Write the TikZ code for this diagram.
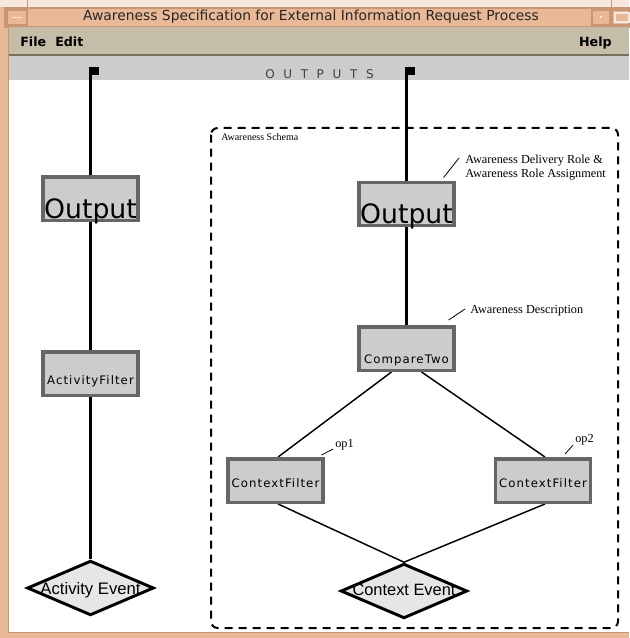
\documentclass[tikz,border=0pt]{standalone}
\usepackage{fontspec}
\setmainfont{Liberation Serif}
\newfontfamily\lucida{DejaVu Sans}
\newfontfamily\lucidabold{DejaVu Sans Bold}
\newfontfamily\boxfont[LetterSpace=9]{DejaVu Sans}
\newfontfamily\outfont[LetterSpace=72]{DejaVu Sans}
\newfontfamily\arial{Liberation Sans}
\usetikzlibrary{shapes.geometric,calc}
\definecolor{winorange}{HTML}{E9B896}
\definecolor{winorangedk}{HTML}{C89575}
\definecolor{winlight}{HTML}{F6E8DE}
\definecolor{menubg}{HTML}{C5BDA8}
\definecolor{menuline}{HTML}{77705F}
\definecolor{bargray}{HTML}{CCCCCC}
\definecolor{boxfill}{HTML}{CCCCCC}
\definecolor{boxedge}{HTML}{666666}
\definecolor{diafill}{HTML}{E6E6E6}
\pgfdeclarelayer{bg}
\pgfdeclarelayer{wires}
\pgfsetlayers{bg,wires,main}
\newcommand{\boxlabel}[2]{\raisebox{-#1}[0pt][0pt]{\makebox[0pt]{#2}}}
\begin{document}
\begin{tikzpicture}[x=0.75pt,y=-0.75pt,
  opbox/.style={rectangle, draw=boxedge, fill=boxfill, line width=2.6pt,
    minimum width=71pt, minimum height=32.6pt, inner sep=0pt},
  evdia/.style={diamond, draw=black, fill=diafill, line width=2.2pt,
    minimum width=95pt, minimum height=41pt, inner sep=0pt},
  wire/.style={line width=2.2pt},
  diag/.style={line width=1.1pt},
  lead/.style={line width=0.6pt},
  note/.style={font=\fontsize{9.2}{10.5}\selectfont, inner sep=0pt, align=left},
]
\useasboundingbox (0,0) rectangle (629,638);
% ---------- window chrome ----------
\begin{pgfonlayer}{bg}
\fill[winorange] (0,0) rectangle (629,638);
\fill[winlight] (0,0) rectangle (629,7);
\draw[winorangedk, line width=0.6pt] (27,0) -- (27,7) (611,0) -- (611,7);
\fill[winorange] (5,8) rectangle (629,27);
\draw[winorangedk, line width=0.8pt] (5,8) rectangle (629,27);
\draw[winorangedk, line width=0.8pt] (7,10) rectangle (27,25);
\draw[winlight, line width=1.2pt] (12,17.5) -- (22,17.5);
\draw[winorangedk, line width=0.8pt] (592,10) rectangle (610,25);
\fill[winlight] (600,16.5) rectangle (602,18.5);
\draw[winorangedk, line width=0.8pt] (612,10) rectangle (629,25);
\draw[winlight, line width=0.8pt] (615,13) rectangle (629,22);
\fill[menubg] (8,27) rectangle (629,55);
\fill[menuline] (8,54) rectangle (629,56.5);
\fill[bargray] (8,56.5) rectangle (629,80);
\fill[white] (8,80) rectangle (629,632);
\draw[winorangedk, line width=0.6pt] (8,27) -- (8,632) -- (629,632);
% dashed awareness schema frame
\draw[line width=1.5pt, dash pattern=on 6pt off 4.5pt, rounded corners=5]
  (211,128) rectangle (618,628);
\end{pgfonlayer}
% ---------- texts of the chrome ----------
\node[font=\lucida\fontsize{10.4}{12}\selectfont, inner sep=0pt, anchor=base, text=black!85]
  (title) at (311,21) {Awareness Specification for External Information Request Process};
\node[font=\lucidabold\fontsize{9.5}{11}\selectfont, inner sep=0pt, anchor=base west]
  (file) at (20,47) {File};
\node[font=\lucidabold\fontsize{9.5}{11}\selectfont, inner sep=0pt, anchor=base west]
  (edit) at (55,47) {Edit};
\node[font=\lucidabold\fontsize{9.5}{11}\selectfont, inner sep=0pt, anchor=base east]
  (help) at (612,47) {Help};
\node[font=\outfont\fontsize{9}{10}\selectfont, inner sep=0pt, anchor=base west, text=black!75]
  (outputs) at (265,79) {OUTPUTS};
% flags
\coordinate (flagL) at (90.5,67);
\coordinate (flagR) at (406.5,67);
\fill (90.5,67) rectangle (98.5,75);
\fill (406.5,67) rectangle (414.5,75);
% ---------- left column ----------
\node[opbox] (outL) at (90.5,198.5) {\boxlabel{14.8pt}{\lucida\fontsize{20}{22}\selectfont Output}};
\node[opbox] (af) at (90.5,373.5) {\boxlabel{8pt}{\boxfont\fontsize{8.8}{10}\selectfont ActivityFilter}};
\node[evdia] (ae) at (90.5,588) {\boxlabel{5.2pt}{\arial\fontsize{12.5}{14}\selectfont Activity Event}};
% ---------- right column ----------
\node[opbox] (outR) at (406.5,204) {\boxlabel{14.8pt}{\lucida\fontsize{20}{22}\selectfont Output}};
\node[opbox] (cmp) at (406.5,348.5) {\boxlabel{11pt}{\boxfont\fontsize{8.8}{10}\selectfont CompareTwo}};
\node[opbox] (cf1) at (275.5,480.5) {\boxlabel{5.6pt}{\boxfont\fontsize{8.8}{10}\selectfont ContextFilter}};
\node[opbox] (cf2) at (543,480.5) {\boxlabel{5.6pt}{\boxfont\fontsize{8.8}{10}\selectfont ContextFilter}};
\node[evdia] (ce) at (404,591) {\boxlabel{3.5pt}{\arial\fontsize{12.3}{14}\selectfont Context Event}};
% annotations
\node[font=\fontsize{7.5}{9}\selectfont, inner sep=0pt, anchor=base west] (schema) at (221,141) {Awareness Schema};
\node[note, anchor=north west] (n1) at (465,155) {Awareness Delivery Role \&\\Awareness Role Assignment};
\node[note, anchor=base west] (n2) at (470,313) {Awareness Description};
\node[note, anchor=base west] (op1) at (335,447) {op1};
\node[note, anchor=base west] (op2) at (575,442) {op2};
% ---------- connectors ----------
\begin{pgfonlayer}{wires}
\draw[wire] (flagL) -- (outL.north);
\draw[wire] (outL.south) -- (af.north);
\draw[wire] (af.south) -- (ae.north);
\draw[wire] (flagR) -- (outR.north);
\draw[wire] (outR.south) -- (cmp.north);
\draw[diag] ($(cmp.south)+(-15,0)$) -- ($(cf1.north)+(2.5,0)$);
\draw[diag] ($(cmp.south)+(15,0)$) -- ($(cf2.north)+(2,0)$);
\draw[diag] ($(cf1.south)+(2.5,0)$) -- (ce.north);
\draw[diag] ($(cf2.south)+(2,0)$) -- (ce.north);
\end{pgfonlayer}
\draw[lead] ($(outR.north east)+(-12,-3)$) -- ($(n1.north west)+(-6,3)$);
\draw[lead] ($(cmp.north east)+(-7,-5)$) -- ($(n2.base west)+(-5,-4)$);
\draw[lead] ($(cf1.north east)+(-3,-2)$) -- ($(op1.base west)+(-2,2)$);
\draw[lead] ($(cf2.north east)+(-27,-3)$) -- ($(op2.base west)+(-2,3)$);
\end{tikzpicture}
\end{document}
